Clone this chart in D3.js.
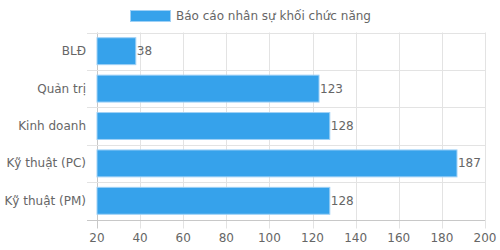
<!DOCTYPE html>
<html>
<head>
<meta charset="utf-8">
<script src="https://cdn.jsdelivr.net/npm/d3@7"></script>
<style>
  html, body { margin: 0; padding: 0; background: #fff; }
  svg { display: block; font-family: "DejaVu Sans", sans-serif; }
  text { fill: #666; font-size: 12px; }
</style>
</head>
<body>
<svg id="chart" width="500" height="250"></svg>
<script>
// Báo cáo nhân sự khối chức năng — horizontal bars
const categories = ['BLĐ', 'Quản trị', 'Kinh doanh', 'Kỹ thuật (PC)', 'Kỹ thuật (PM)'];
const values = [38, 123, 128, 187, 128];
const xTicks = [20, 40, 60, 80, 100, 120, 140, 160, 180, 200];
const seriesName = 'Báo cáo nhân sự khối chức năng';

const svg = d3.select('#chart');
const plot = { left: 97, right: 485, top: 32.5, bottom: 219.5 };

const x = d3.scaleLinear().domain([20, 200]).range([plot.left, plot.right]);
const y = d3.scaleBand()
  .domain(categories)
  .range([plot.top, plot.bottom])
  .paddingInner(0.28)
  .paddingOuter(0.14);

const step = y.step();
const gap = (step - y.bandwidth()) / 2;
const boundaries = categories.map(c => y(c) - gap).concat([plot.bottom]);

// vertical grid (with tick marks below the axis)
svg.append('g')
  .selectAll('line')
  .data(xTicks)
  .join('line')
  .attr('x1', d => Math.round(x(d)) + 0.5)
  .attr('x2', d => Math.round(x(d)) + 0.5)
  .attr('y1', plot.top)
  .attr('y2', plot.bottom + 9)
  .attr('stroke', d => d === 20 ? '#c8c8c8' : '#e3e3e3');

// horizontal grid (with tick marks left of the axis)
svg.append('g')
  .selectAll('line')
  .data(boundaries)
  .join('line')
  .attr('x1', plot.left - 10)
  .attr('x2', plot.right)
  .attr('y1', d => Math.round(d) + 0.5)
  .attr('y2', d => Math.round(d) + 0.5)
  .attr('stroke', (d, i) => i === boundaries.length - 1 ? '#c8c8c8' : '#e3e3e3');

// bars
svg.append('g')
  .selectAll('rect')
  .data(values)
  .join('rect')
  .attr('x', x(20))
  .attr('y', (d, i) => y(categories[i]))
  .attr('width', d => x(d) - x(20))
  .attr('height', y.bandwidth())
  .attr('fill', '#36a2eb')
  .attr('stroke', '#9fd1f6')
  .attr('stroke-width', 1);

// value labels
svg.append('g')
  .selectAll('text')
  .data(values)
  .join('text')
  .attr('x', d => x(d) + 1)
  .attr('y', (d, i) => y(categories[i]) + y.bandwidth() / 2)
  .attr('dominant-baseline', 'central')
  .text(d => d);

// category labels
svg.append('g')
  .selectAll('text')
  .data(categories)
  .join('text')
  .attr('x', plot.left - 11)
  .attr('y', d => y(d) + y.bandwidth() / 2)
  .attr('text-anchor', 'end')
  .attr('dominant-baseline', 'central')
  .text(d => d);

// x tick labels
svg.append('g')
  .selectAll('text')
  .data(xTicks)
  .join('text')
  .attr('x', d => x(d))
  .attr('y', plot.bottom + 18)
  .attr('text-anchor', 'middle')
  .attr('dominant-baseline', 'central')
  .text(d => d);

// legend, centred
const legend = svg.append('g');
const legendText = legend.append('text')
  .attr('y', 16)
  .attr('dominant-baseline', 'central')
  .text(seriesName);
const tw = legendText.node().getComputedTextLength();
const boxW = 40, boxGap = 6;
const startX = Math.round(250 - (boxW + boxGap + tw) / 2);
legend.insert('rect', 'text')
  .attr('x', startX + 0.5)
  .attr('y', 10.5)
  .attr('width', boxW)
  .attr('height', 11)
  .attr('fill', '#36a2eb')
  .attr('stroke', '#9fd1f6');
legendText.attr('x', startX + boxW + boxGap);
</script>
</body>
</html>
